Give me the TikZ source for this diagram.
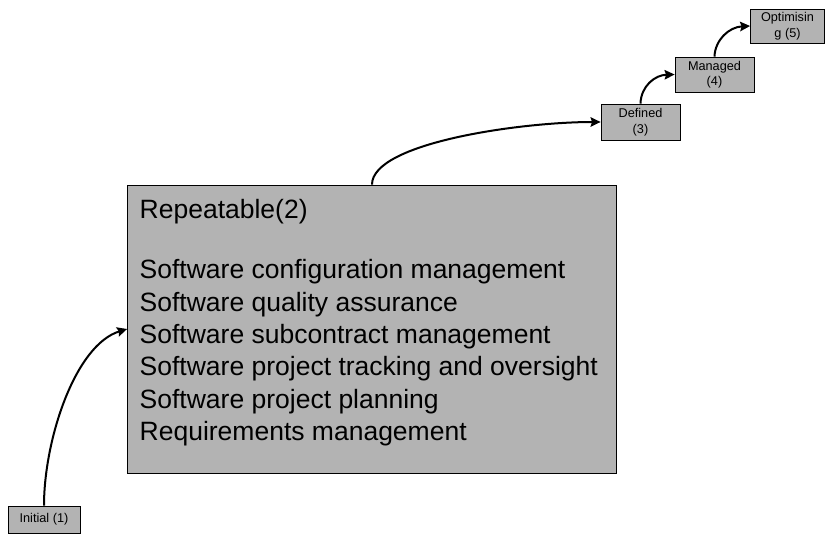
\documentclass[tikz,border=0pt]{standalone}
\usepackage{fontspec}
\setmainfont{Liberation Sans}
\usetikzlibrary{arrows.meta}
\definecolor{boxgray}{RGB}{179,179,179}
\tikzset{
  lvl/.style={draw=black, line width=0.8pt, fill=boxgray, align=center, inner sep=0pt,
    font=\fontsize{12.7}{15.5}\selectfont},
  bigbox/.style={draw=black, line width=0.8pt, fill=boxgray, inner sep=0pt},
  conn/.style={line width=2pt, -{Stealth[length=10pt,width=9.5pt,inset=1.5pt]}}
}
\begin{document}
\begin{tikzpicture}[x=1pt,y=-1pt]
\useasboundingbox (0,0) rectangle (825,534);
% nodes
\node[lvl, minimum width=72pt, minimum height=27pt] (init) at (44,519.5) {Initial (1)};
\node[bigbox, minimum width=489pt, minimum height=288pt] (rep) at (372,329) {};
\node[anchor=north west, inner sep=0pt, align=left, font=\fontsize{26.5}{32.4}\selectfont]
  (reptext) at (139.5,199.3) {Repeatable(2)\\[27.6pt]Software configuration management\\Software quality assurance\\Software subcontract management\\Software project tracking and oversight\\Software project planning\\Requirements management};
\node[lvl, minimum width=79pt, minimum height=36pt] (def) at (640.5,122) {Defined\\(3)};
\node[lvl, minimum width=79pt, minimum height=35pt] (man) at (714.5,74.5) {Managed\\(4)};
\node[lvl, minimum width=74pt, minimum height=34pt] (opt) at (787.5,26) {Optimisin\\g (5)};
% connectors
\draw[conn] (init.north) .. controls (44,440) and (75,345) .. (rep.west);
\draw[conn] (rep.north) .. controls (372,143) and (520,122) .. (def.west);
\draw[conn] (def.north) .. controls (641,86) and (655,75) .. (man.west);
\draw[conn] (man.north) .. controls (715,40) and (729,27) .. (opt.west);
\end{tikzpicture}
\end{document}
